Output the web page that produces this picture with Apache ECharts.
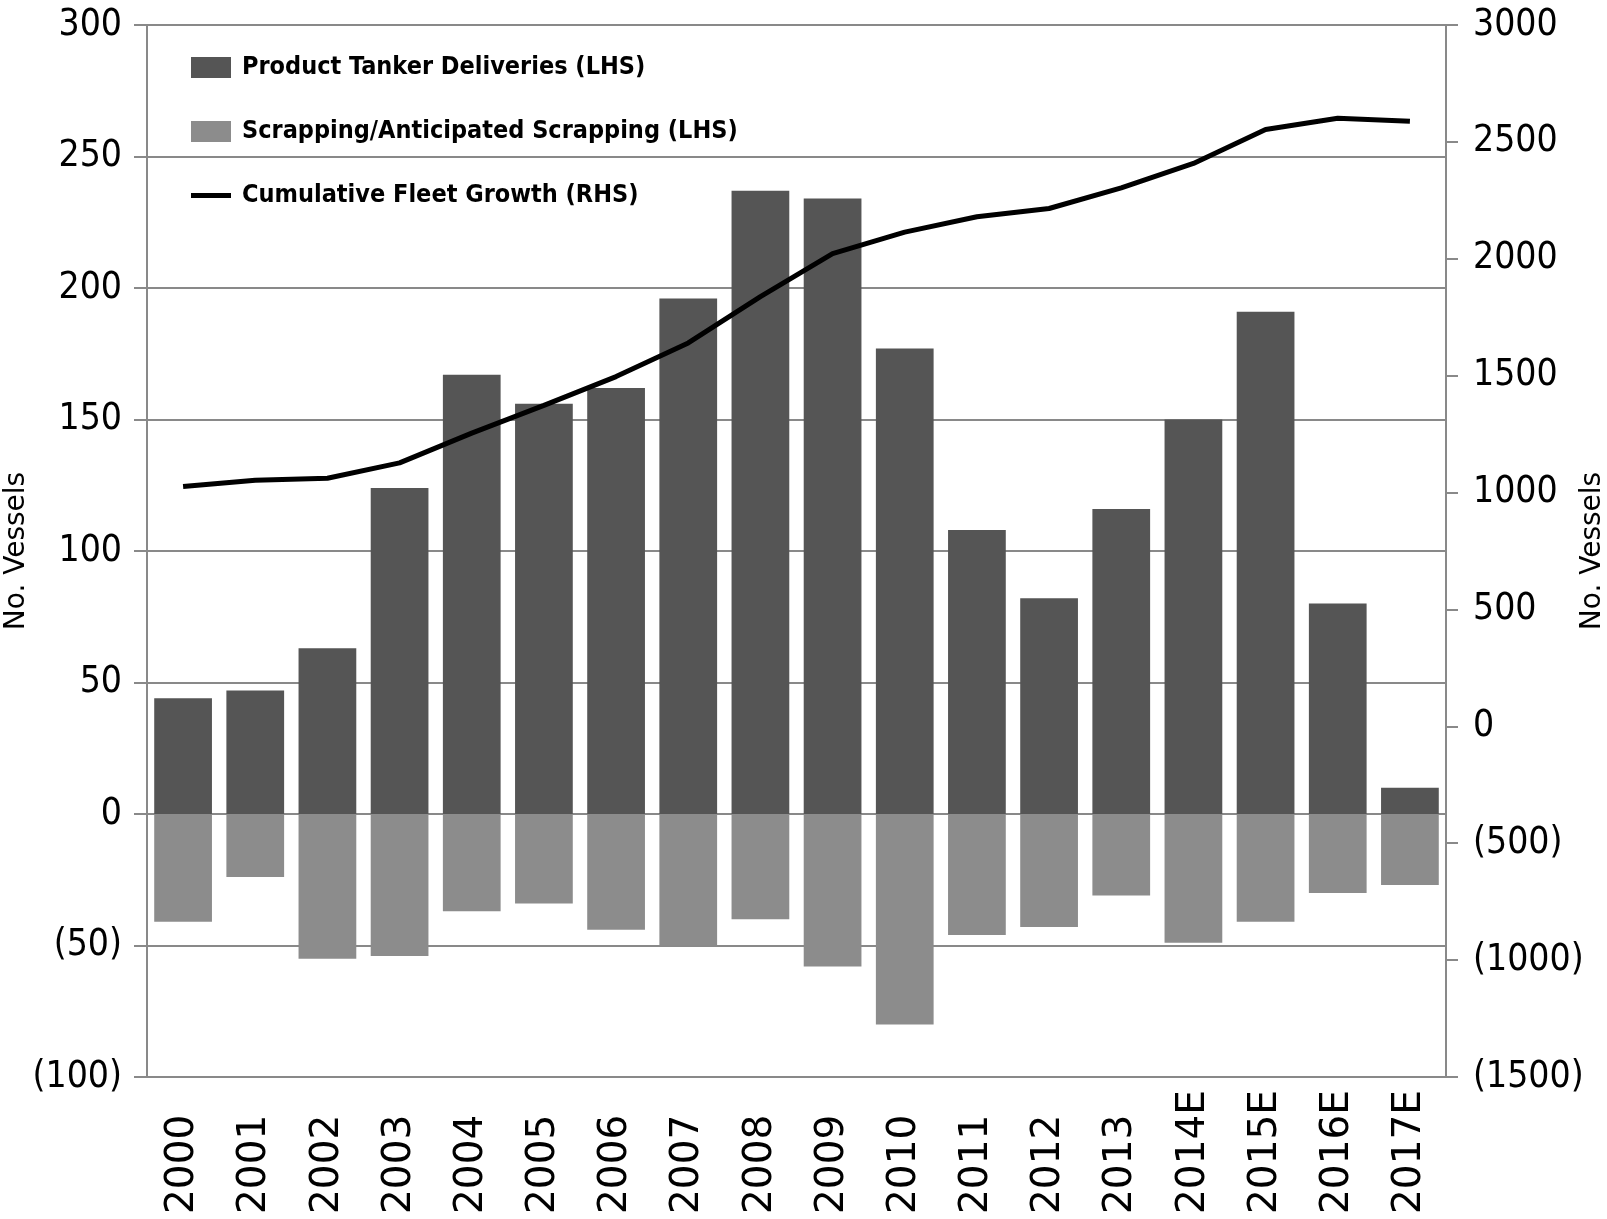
<!DOCTYPE html>
<html>
<head>
<meta charset="utf-8">
<script src="https://cdn.jsdelivr.net/npm/echarts@6/dist/echarts.min.js"></script>
<style>
html,body{margin:0;padding:0;background:#fff;}
#chart{width:1607px;height:1219px;}
</style>
</head>
<body>
<div id="chart"></div>
<script>
const categories = ['2000','2001','2002','2003','2004','2005','2006','2007','2008','2009','2010','2011','2012','2013','2014E','2015E','2016E','2017E'];
const deliveries = [44,47,63,124,167,156,162,196,237,234,177,108,82,116,150,191,80,10];
const scrapping = [-41,-24,-55,-54,-37,-34,-44,-50,-40,-58,-80,-46,-43,-31,-49,-41,-30,-27];
const fleetGrowth = [1026,1053,1061,1127,1254,1373,1496,1640,1838,2022,2114,2180,2215,2303,2408,2553,2601,2588];
const seriesNames = ['Product Tanker Deliveries (LHS)','Scrapping/Anticipated Scrapping (LHS)','Cumulative Fleet Growth (RHS)'];

const narrow = '"DejaVu Sans Condensed", "DejaVu Sans", sans-serif';
const fmt = v => v < 0 ? '(' + Math.abs(v) + ')' : String(v);
const gray = '#898989';

const chart = echarts.init(document.getElementById('chart'));
chart.setOption({
  animation: false,
  backgroundColor: '#ffffff',
  grid: {left: 147, right: 161, top: 25, bottom: 142, containLabel: false, outerBoundsMode: 'none'},
  legend: {
    orient: 'vertical',
    left: 186,
    top: 50,
    itemWidth: 40,
    itemHeight: 21,
    itemGap: 39,
    textStyle: {fontFamily: narrow, fontWeight: 'bold', fontSize: 25, color: '#000', padding: [0,0,0,6]},
    data: [
      {name: seriesNames[0], icon: 'rect'},
      {name: seriesNames[1], icon: 'rect'},
      {name: seriesNames[2], icon: 'path://M0,0L50,0L50,6L0,6Z'}
    ]
  },
  xAxis: {
    type: 'category',
    data: categories,
    axisLine: {onZero: false, lineStyle: {color: gray, width: 2}},
    axisTick: {show: false},
    axisLabel: {
      interval: 0,
      rotate: 90,
      align: 'left',
      margin: 137,
      fontFamily: '"DejaVu Sans", sans-serif',
      fontSize: 39,
      color: '#000'
    }
  },
  yAxis: [
    {
      type: 'value',
      min: -100, max: 300, interval: 50,
      name: 'No. Vessels',
      nameLocation: 'middle',
      nameRotate: 90,
      nameGap: 116,
      nameMoveOverlap: false,
      nameTextStyle: {fontFamily: '"DejaVu Sans", sans-serif', fontSize: 28, color: '#000'},
      axisLine: {show: true, lineStyle: {color: gray, width: 2}},
      axisTick: {show: true, length: 13, lineStyle: {color: gray, width: 2}},
      splitLine: {show: true, lineStyle: {color: gray, width: 2}},
      axisLabel: {margin: 25, fontFamily: narrow, fontSize: 37, color: '#000', formatter: fmt}
    },
    {
      type: 'value',
      position: 'right',
      min: -1500, max: 3000, interval: 500,
      name: 'No. Vessels',
      nameLocation: 'middle',
      nameRotate: 90,
      nameGap: 133,
      nameMoveOverlap: false,
      nameTextStyle: {fontFamily: '"DejaVu Sans", sans-serif', fontSize: 28, color: '#000'},
      axisLine: {show: true, lineStyle: {color: gray, width: 2}},
      axisTick: {show: true, length: 12, lineStyle: {color: gray, width: 2}},
      splitLine: {show: false},
      axisLabel: {margin: 27, fontFamily: narrow, fontSize: 37, color: '#000', formatter: fmt}
    }
  ],
  series: [
    {
      name: seriesNames[0], type: 'bar', data: deliveries, yAxisIndex: 0,
      barCategoryGap: '20%', barGap: '-100%',
      itemStyle: {color: '#555555'}
    },
    {
      name: seriesNames[1], type: 'bar', data: scrapping, yAxisIndex: 0,
      barCategoryGap: '20%', barGap: '-100%',
      itemStyle: {color: '#8c8c8c'}
    },
    {
      name: seriesNames[2], type: 'line', data: fleetGrowth, yAxisIndex: 1,
      symbol: 'none', showSymbol: false,
      lineStyle: {color: '#000', width: 5},
      itemStyle: {color: '#000'}
    }
  ]
});
</script>
</body>
</html>
